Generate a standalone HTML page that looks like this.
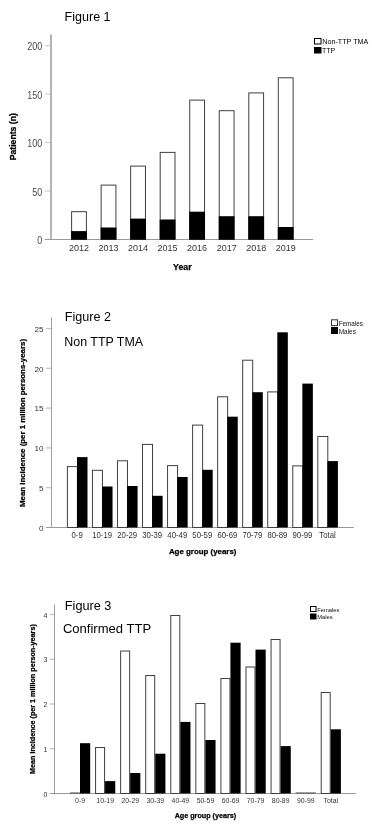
<!DOCTYPE html>
<html><head><meta charset="utf-8"><title>Figures</title>
<style>
html,body{margin:0;padding:0;background:#fff;width:378px;height:824px;overflow:hidden;}
svg{display:block;font-family:"Liberation Sans", sans-serif;will-change:transform;}
</style></head><body>
<svg width="378" height="824" viewBox="0 0 378 824">
<rect x="0" y="0" width="378" height="824" fill="#fff"/>
<text x="64.6" y="20.7" font-size="12" font-weight="normal" fill="#000" text-anchor="start" textLength="46" lengthAdjust="spacingAndGlyphs">Figure 1</text>
<line x1="51" y1="34.5" x2="51" y2="240" stroke="#b4b4b4" stroke-width="2"/>
<line x1="44.8" y1="239.5" x2="313.2" y2="239.5" stroke="#9a9a9a" stroke-width="1"/>
<g transform="translate(42.2 244.1) scale(1 1.12)">
<text x="0" y="0" font-size="9" font-weight="normal" fill="#4a4a4a" text-anchor="end">0</text>
</g>
<line x1="45" y1="191.025" x2="50" y2="191.025" stroke="#d0d0d0" stroke-width="1.2"/>
<g transform="translate(42.2 195.625) scale(1 1.12)">
<text x="0" y="0" font-size="9" font-weight="normal" fill="#4a4a4a" text-anchor="end">50</text>
</g>
<line x1="45" y1="142.55" x2="50" y2="142.55" stroke="#d0d0d0" stroke-width="1.2"/>
<g transform="translate(42.2 147.15) scale(1 1.12)">
<text x="0" y="0" font-size="9" font-weight="normal" fill="#4a4a4a" text-anchor="end">100</text>
</g>
<line x1="45" y1="94.07499999999999" x2="50" y2="94.07499999999999" stroke="#d0d0d0" stroke-width="1.2"/>
<g transform="translate(42.2 98.67499999999998) scale(1 1.12)">
<text x="0" y="0" font-size="9" font-weight="normal" fill="#4a4a4a" text-anchor="end">150</text>
</g>
<line x1="45" y1="45.599999999999994" x2="50" y2="45.599999999999994" stroke="#d0d0d0" stroke-width="1.2"/>
<g transform="translate(42.2 50.199999999999996) scale(1 1.12)">
<text x="0" y="0" font-size="9" font-weight="normal" fill="#4a4a4a" text-anchor="end">200</text>
</g>
<rect x="71.60" y="211.70" width="14.80" height="27.80" fill="#fff" stroke="#404040" stroke-width="1"/>
<rect x="71.10" y="231.10" width="15.8" height="8.40" fill="#000"/>
<g transform="translate(79.0 251.2) scale(1 1.06)">
<text x="0" y="0" font-size="9.0" font-weight="normal" fill="#333" text-anchor="middle">2012</text>
</g>
<rect x="101.13" y="185.10" width="14.80" height="54.40" fill="#fff" stroke="#404040" stroke-width="1"/>
<rect x="100.63" y="227.50" width="15.8" height="12.00" fill="#000"/>
<g transform="translate(108.53 251.2) scale(1 1.06)">
<text x="0" y="0" font-size="9.0" font-weight="normal" fill="#333" text-anchor="middle">2013</text>
</g>
<rect x="130.66" y="166.10" width="14.80" height="73.40" fill="#fff" stroke="#404040" stroke-width="1"/>
<rect x="130.16" y="218.60" width="15.8" height="20.90" fill="#000"/>
<g transform="translate(138.06 251.2) scale(1 1.06)">
<text x="0" y="0" font-size="9.0" font-weight="normal" fill="#333" text-anchor="middle">2014</text>
</g>
<rect x="160.19" y="152.40" width="14.80" height="87.10" fill="#fff" stroke="#404040" stroke-width="1"/>
<rect x="159.69" y="219.50" width="15.8" height="20.00" fill="#000"/>
<g transform="translate(167.59 251.2) scale(1 1.06)">
<text x="0" y="0" font-size="9.0" font-weight="normal" fill="#333" text-anchor="middle">2015</text>
</g>
<rect x="189.72" y="100.10" width="14.80" height="139.40" fill="#fff" stroke="#404040" stroke-width="1"/>
<rect x="189.22" y="211.70" width="15.8" height="27.80" fill="#000"/>
<g transform="translate(197.12 251.2) scale(1 1.06)">
<text x="0" y="0" font-size="9.0" font-weight="normal" fill="#333" text-anchor="middle">2016</text>
</g>
<rect x="219.25" y="110.70" width="14.80" height="128.80" fill="#fff" stroke="#404040" stroke-width="1"/>
<rect x="218.75" y="216.20" width="15.8" height="23.30" fill="#000"/>
<g transform="translate(226.65 251.2) scale(1 1.06)">
<text x="0" y="0" font-size="9.0" font-weight="normal" fill="#333" text-anchor="middle">2017</text>
</g>
<rect x="248.78" y="92.90" width="14.80" height="146.60" fill="#fff" stroke="#404040" stroke-width="1"/>
<rect x="248.28" y="216.20" width="15.8" height="23.30" fill="#000"/>
<g transform="translate(256.18 251.2) scale(1 1.06)">
<text x="0" y="0" font-size="9.0" font-weight="normal" fill="#333" text-anchor="middle">2018</text>
</g>
<rect x="278.31" y="77.80" width="14.80" height="161.70" fill="#fff" stroke="#404040" stroke-width="1"/>
<rect x="277.81" y="227.00" width="15.8" height="12.50" fill="#000"/>
<g transform="translate(285.71 251.2) scale(1 1.06)">
<text x="0" y="0" font-size="9.0" font-weight="normal" fill="#333" text-anchor="middle">2019</text>
</g>
<text x="182.3" y="269.8" font-size="8.8" font-weight="bold" fill="#000" text-anchor="middle" stroke="#000" stroke-width="0.25">Year</text>
<text x="15.9" y="136.7" font-size="8.7" font-weight="bold" fill="#000" text-anchor="middle" stroke="#000" stroke-width="0.25" transform="rotate(-90 15.9 136.7)">Patients (n)</text>
<rect x="314.50" y="38.50" width="6.50" height="5.50" fill="#fff" stroke="#000" stroke-width="1"/>
<text x="322.3" y="43.6" font-size="7" font-weight="normal" fill="#000" text-anchor="start" textLength="46" lengthAdjust="spacingAndGlyphs">Non-TTP TMA</text>
<rect x="314.50" y="47.50" width="6.50" height="5.50" fill="#000" stroke="#000" stroke-width="1"/>
<text x="322" y="52.6" font-size="7" font-weight="normal" fill="#000" text-anchor="start">TTP</text>
<text x="64.8" y="320.9" font-size="12" font-weight="normal" fill="#000" text-anchor="start" textLength="46.3" lengthAdjust="spacingAndGlyphs">Figure 2</text>
<text x="64.3" y="346" font-size="12" font-weight="normal" fill="#000" text-anchor="start" textLength="78.8" lengthAdjust="spacingAndGlyphs">Non TTP TMA</text>
<line x1="51.5" y1="317.5" x2="51.5" y2="528" stroke="#a0a0a0" stroke-width="1"/>
<line x1="45.8" y1="527.5" x2="353.8" y2="527.5" stroke="#9a9a9a" stroke-width="1"/>
<text x="43.4" y="530.8" font-size="8.1" font-weight="normal" fill="#333" text-anchor="end">0</text>
<line x1="46" y1="487.7" x2="51" y2="487.7" stroke="#c0c0c0" stroke-width="1.2"/>
<text x="43.4" y="491.0" font-size="8.1" font-weight="normal" fill="#333" text-anchor="end">5</text>
<line x1="46" y1="447.9" x2="51" y2="447.9" stroke="#c0c0c0" stroke-width="1.2"/>
<text x="43.4" y="451.2" font-size="8.1" font-weight="normal" fill="#333" text-anchor="end">10</text>
<line x1="46" y1="408.1" x2="51" y2="408.1" stroke="#c0c0c0" stroke-width="1.2"/>
<text x="43.4" y="411.40000000000003" font-size="8.1" font-weight="normal" fill="#333" text-anchor="end">15</text>
<line x1="46" y1="368.3" x2="51" y2="368.3" stroke="#c0c0c0" stroke-width="1.2"/>
<text x="43.4" y="371.6" font-size="8.1" font-weight="normal" fill="#333" text-anchor="end">20</text>
<line x1="46" y1="328.5" x2="51" y2="328.5" stroke="#c0c0c0" stroke-width="1.2"/>
<text x="43.4" y="331.8" font-size="8.1" font-weight="normal" fill="#333" text-anchor="end">25</text>
<rect x="67.40" y="466.60" width="10.00" height="60.90" fill="#fff" stroke="#404040" stroke-width="1"/>
<rect x="77.00" y="457.10" width="10.5" height="70.40" fill="#000"/>
<g transform="translate(77.10000000000001 537.9) scale(1 1.15)">
<text x="0" y="0" font-size="7.8" font-weight="normal" fill="#333" text-anchor="middle">0-9</text>
</g>
<rect x="92.44" y="470.30" width="10.00" height="57.20" fill="#fff" stroke="#404040" stroke-width="1"/>
<rect x="102.04" y="486.50" width="10.5" height="41.00" fill="#000"/>
<g transform="translate(102.14 537.9) scale(1 1.15)">
<text x="0" y="0" font-size="7.8" font-weight="normal" fill="#333" text-anchor="middle">10-19</text>
</g>
<rect x="117.48" y="460.80" width="10.00" height="66.70" fill="#fff" stroke="#404040" stroke-width="1"/>
<rect x="127.08" y="486.00" width="10.5" height="41.50" fill="#000"/>
<g transform="translate(127.18 537.9) scale(1 1.15)">
<text x="0" y="0" font-size="7.8" font-weight="normal" fill="#333" text-anchor="middle">20-29</text>
</g>
<rect x="142.52" y="444.40" width="10.00" height="83.10" fill="#fff" stroke="#404040" stroke-width="1"/>
<rect x="152.12" y="495.80" width="10.5" height="31.70" fill="#000"/>
<g transform="translate(152.22 537.9) scale(1 1.15)">
<text x="0" y="0" font-size="7.8" font-weight="normal" fill="#333" text-anchor="middle">30-39</text>
</g>
<rect x="167.56" y="465.60" width="10.00" height="61.90" fill="#fff" stroke="#404040" stroke-width="1"/>
<rect x="177.16" y="477.00" width="10.5" height="50.50" fill="#000"/>
<g transform="translate(177.26 537.9) scale(1 1.15)">
<text x="0" y="0" font-size="7.8" font-weight="normal" fill="#333" text-anchor="middle">40-49</text>
</g>
<rect x="192.60" y="425.10" width="10.00" height="102.40" fill="#fff" stroke="#404040" stroke-width="1"/>
<rect x="202.20" y="469.80" width="10.5" height="57.70" fill="#000"/>
<g transform="translate(202.29999999999998 537.9) scale(1 1.15)">
<text x="0" y="0" font-size="7.8" font-weight="normal" fill="#333" text-anchor="middle">50-59</text>
</g>
<rect x="217.64" y="396.80" width="10.00" height="130.70" fill="#fff" stroke="#404040" stroke-width="1"/>
<rect x="227.24" y="416.70" width="10.5" height="110.80" fill="#000"/>
<g transform="translate(227.34 537.9) scale(1 1.15)">
<text x="0" y="0" font-size="7.8" font-weight="normal" fill="#333" text-anchor="middle">60-69</text>
</g>
<rect x="242.68" y="360.20" width="10.00" height="167.30" fill="#fff" stroke="#404040" stroke-width="1"/>
<rect x="252.28" y="392.20" width="10.5" height="135.30" fill="#000"/>
<g transform="translate(252.38 537.9) scale(1 1.15)">
<text x="0" y="0" font-size="7.8" font-weight="normal" fill="#333" text-anchor="middle">70-79</text>
</g>
<rect x="267.72" y="391.90" width="10.00" height="135.60" fill="#fff" stroke="#404040" stroke-width="1"/>
<rect x="277.32" y="332.30" width="10.5" height="195.20" fill="#000"/>
<g transform="translate(277.42 537.9) scale(1 1.15)">
<text x="0" y="0" font-size="7.8" font-weight="normal" fill="#333" text-anchor="middle">80-89</text>
</g>
<rect x="292.76" y="465.90" width="10.00" height="61.60" fill="#fff" stroke="#404040" stroke-width="1"/>
<rect x="302.36" y="383.60" width="10.5" height="143.90" fill="#000"/>
<g transform="translate(302.46 537.9) scale(1 1.15)">
<text x="0" y="0" font-size="7.8" font-weight="normal" fill="#333" text-anchor="middle">90-99</text>
</g>
<rect x="317.80" y="436.50" width="10.00" height="91.00" fill="#fff" stroke="#404040" stroke-width="1"/>
<rect x="327.40" y="461.10" width="10.5" height="66.40" fill="#000"/>
<g transform="translate(327.49999999999994 537.9) scale(1 1.15)">
<text x="0" y="0" font-size="7.8" font-weight="normal" fill="#333" text-anchor="middle">Total</text>
</g>
<text x="202.7" y="553.8" font-size="7.9" font-weight="bold" fill="#000" text-anchor="middle" stroke="#000" stroke-width="0.25">Age group (years)</text>
<text x="25.2" y="423.0" font-size="7.9" font-weight="bold" fill="#000" text-anchor="middle" textLength="168" lengthAdjust="spacingAndGlyphs" stroke="#000" stroke-width="0.25" transform="rotate(-90 25.2 423.0)">Mean incidence (per 1 million persons-years)</text>
<rect x="331.50" y="319.80" width="6.00" height="5.80" fill="#fff" stroke="#333" stroke-width="1"/>
<text x="338.7" y="325.6" font-size="6.4" font-weight="normal" fill="#111" text-anchor="start" textLength="24.3" lengthAdjust="spacingAndGlyphs">Females</text>
<rect x="331.50" y="327.50" width="6.00" height="6.00" fill="#000" stroke="#000" stroke-width="1"/>
<text x="338.7" y="333.6" font-size="6.4" font-weight="normal" fill="#111" text-anchor="start" textLength="17.2" lengthAdjust="spacingAndGlyphs">Males</text>
<text x="64.8" y="609.7" font-size="12" font-weight="normal" fill="#000" text-anchor="start" textLength="46.6" lengthAdjust="spacingAndGlyphs">Figure 3</text>
<text x="62.9" y="632.9" font-size="12" font-weight="normal" fill="#000" text-anchor="start" textLength="88.2" lengthAdjust="spacingAndGlyphs">Confirmed TTP</text>
<line x1="54.5" y1="604.5" x2="54.5" y2="794" stroke="#a0a0a0" stroke-width="1"/>
<line x1="49.5" y1="793.5" x2="355.8" y2="793.5" stroke="#9a9a9a" stroke-width="1"/>
<text x="47.3" y="796.5" font-size="7" font-weight="normal" fill="#333" text-anchor="end">0</text>
<line x1="49.5" y1="748.75" x2="54" y2="748.75" stroke="#c0c0c0" stroke-width="1.2"/>
<text x="47.3" y="751.75" font-size="7" font-weight="normal" fill="#333" text-anchor="end">1</text>
<line x1="49.5" y1="704.0" x2="54" y2="704.0" stroke="#c0c0c0" stroke-width="1.2"/>
<text x="47.3" y="707.0" font-size="7" font-weight="normal" fill="#333" text-anchor="end">2</text>
<line x1="49.5" y1="659.25" x2="54" y2="659.25" stroke="#c0c0c0" stroke-width="1.2"/>
<text x="47.3" y="662.25" font-size="7" font-weight="normal" fill="#333" text-anchor="end">3</text>
<line x1="49.5" y1="614.5" x2="54" y2="614.5" stroke="#c0c0c0" stroke-width="1.2"/>
<text x="47.3" y="617.5" font-size="7" font-weight="normal" fill="#333" text-anchor="end">4</text>
<line x1="70.0" y1="793.0" x2="80.0" y2="793.0" stroke="#444" stroke-width="1"/>
<rect x="80.00" y="743.20" width="10.2" height="50.30" fill="#000"/>
<g transform="translate(80.1 803.3) scale(1 1.1)">
<text x="0" y="0" font-size="6.9" font-weight="normal" fill="#333" text-anchor="middle">0-9</text>
</g>
<rect x="95.57" y="747.50" width="9.00" height="46.00" fill="#fff" stroke="#404040" stroke-width="1"/>
<rect x="105.07" y="781.10" width="10.2" height="12.40" fill="#000"/>
<g transform="translate(105.16999999999999 803.3) scale(1 1.1)">
<text x="0" y="0" font-size="6.9" font-weight="normal" fill="#333" text-anchor="middle">10-19</text>
</g>
<rect x="120.64" y="651.00" width="9.00" height="142.50" fill="#fff" stroke="#404040" stroke-width="1"/>
<rect x="130.14" y="773.00" width="10.2" height="20.50" fill="#000"/>
<g transform="translate(130.24 803.3) scale(1 1.1)">
<text x="0" y="0" font-size="6.9" font-weight="normal" fill="#333" text-anchor="middle">20-29</text>
</g>
<rect x="145.71" y="675.50" width="9.00" height="118.00" fill="#fff" stroke="#404040" stroke-width="1"/>
<rect x="155.21" y="753.70" width="10.2" height="39.80" fill="#000"/>
<g transform="translate(155.31 803.3) scale(1 1.1)">
<text x="0" y="0" font-size="6.9" font-weight="normal" fill="#333" text-anchor="middle">30-39</text>
</g>
<rect x="170.78" y="615.50" width="9.00" height="178.00" fill="#fff" stroke="#404040" stroke-width="1"/>
<rect x="180.28" y="721.90" width="10.2" height="71.60" fill="#000"/>
<g transform="translate(180.38 803.3) scale(1 1.1)">
<text x="0" y="0" font-size="6.9" font-weight="normal" fill="#333" text-anchor="middle">40-49</text>
</g>
<rect x="195.85" y="703.50" width="9.00" height="90.00" fill="#fff" stroke="#404040" stroke-width="1"/>
<rect x="205.35" y="740.00" width="10.2" height="53.50" fill="#000"/>
<g transform="translate(205.45 803.3) scale(1 1.1)">
<text x="0" y="0" font-size="6.9" font-weight="normal" fill="#333" text-anchor="middle">50-59</text>
</g>
<rect x="220.92" y="678.50" width="9.00" height="115.00" fill="#fff" stroke="#404040" stroke-width="1"/>
<rect x="230.42" y="642.70" width="10.2" height="150.80" fill="#000"/>
<g transform="translate(230.52 803.3) scale(1 1.1)">
<text x="0" y="0" font-size="6.9" font-weight="normal" fill="#333" text-anchor="middle">60-69</text>
</g>
<rect x="245.99" y="667.00" width="9.00" height="126.50" fill="#fff" stroke="#404040" stroke-width="1"/>
<rect x="255.49" y="649.60" width="10.2" height="143.90" fill="#000"/>
<g transform="translate(255.59 803.3) scale(1 1.1)">
<text x="0" y="0" font-size="6.9" font-weight="normal" fill="#333" text-anchor="middle">70-79</text>
</g>
<rect x="271.06" y="639.50" width="9.00" height="154.00" fill="#fff" stroke="#404040" stroke-width="1"/>
<rect x="280.56" y="746.10" width="10.2" height="47.40" fill="#000"/>
<g transform="translate(280.66 803.3) scale(1 1.1)">
<text x="0" y="0" font-size="6.9" font-weight="normal" fill="#333" text-anchor="middle">80-89</text>
</g>
<line x1="295.63" y1="793.0" x2="305.63" y2="793.0" stroke="#444" stroke-width="1"/>
<line x1="305.63" y1="793.0" x2="315.83" y2="793.0" stroke="#444" stroke-width="1"/>
<g transform="translate(305.73 803.3) scale(1 1.1)">
<text x="0" y="0" font-size="6.9" font-weight="normal" fill="#333" text-anchor="middle">90-99</text>
</g>
<rect x="321.20" y="692.50" width="9.00" height="101.00" fill="#fff" stroke="#404040" stroke-width="1"/>
<rect x="330.70" y="729.30" width="10.2" height="64.20" fill="#000"/>
<g transform="translate(330.8 803.3) scale(1 1.1)">
<text x="0" y="0" font-size="6.9" font-weight="normal" fill="#333" text-anchor="middle">Total</text>
</g>
<text x="205.4" y="817.5" font-size="7.2" font-weight="bold" fill="#000" text-anchor="middle" stroke="#000" stroke-width="0.25">Age group (years)</text>
<text x="35.4" y="699.1" font-size="7.2" font-weight="bold" fill="#000" text-anchor="middle" stroke="#000" stroke-width="0.25" transform="rotate(-90 35.4 699.1)">Mean incidence (per 1 million person-years)</text>
<rect x="310.50" y="606.50" width="5.50" height="5.00" fill="#fff" stroke="#000" stroke-width="1"/>
<text x="317.2" y="611.7" font-size="6.0" font-weight="normal" fill="#111" text-anchor="start" textLength="22.3" lengthAdjust="spacingAndGlyphs">Females</text>
<rect x="310.50" y="614.00" width="5.50" height="5.00" fill="#000" stroke="#000" stroke-width="1"/>
<text x="317.2" y="619.3" font-size="6.0" font-weight="normal" fill="#111" text-anchor="start" textLength="15.5" lengthAdjust="spacingAndGlyphs">Males</text>
</svg>
</body></html>
